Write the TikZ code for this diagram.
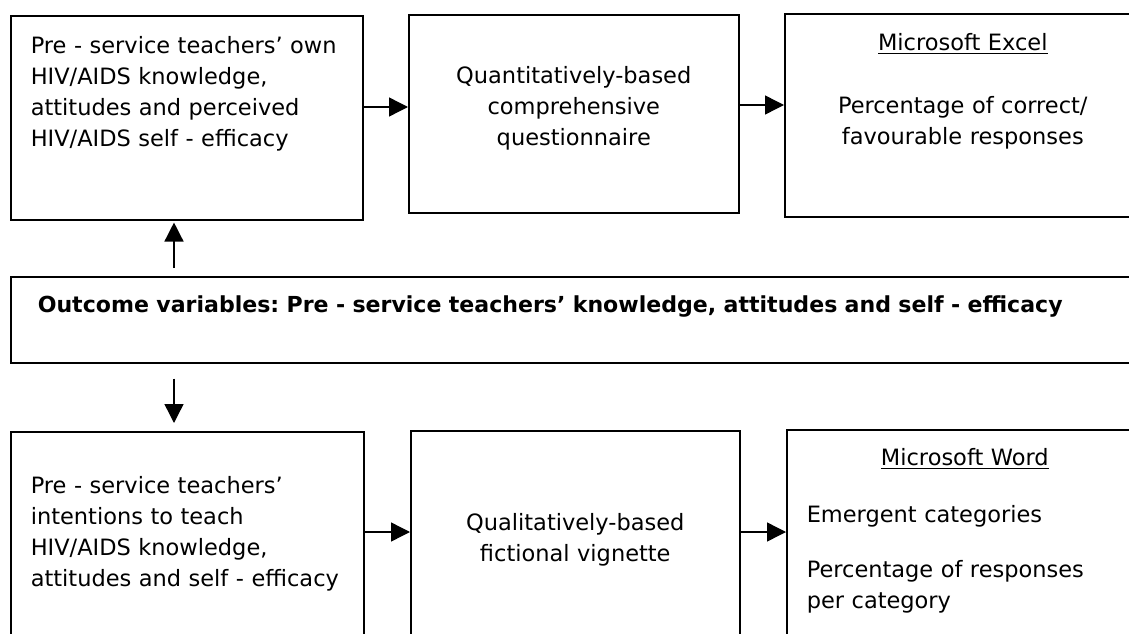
\documentclass[tikz,border=0pt]{standalone}
\usepackage{fontspec}
\setmainfont{DejaVu Sans}
\usetikzlibrary{arrows.meta}
\frenchspacing

\begin{document}
\begin{tikzpicture}[box/.style={draw, line width=1.1pt, anchor=north west, inner xsep=0.5cm, inner ysep=0pt,
                                font=\fontsize{16}{22}\selectfont},
                    arr/.style={line width=1pt, -{Triangle[length=0.475cm,width=0.475cm]}}]
                    \useasboundingbox (0,0) rectangle (28.225,-15.85);
                    \clip (0,0) rectangle (28.225,-15.85);

                    \coordinate (row1) at (0,-2.675);
                    \coordinate (row2) at (0,-2.625);
                    \coordinate (row3) at (0,-13.3);
                    \coordinate (col)  at (4.35,0);

                    \node (own)     [box, text width=7.8cm, align=left, text height=0.95cm, text depth=4.15cm]
                                    at (0.25,-0.375)  {Pre - service teachers’ own\\ HIV/AIDS knowledge,\\ attitudes and perceived\\ HIV/AIDS self - efficacy};
                    \node (quest)   [box, text width=7.25cm, align=center, text height=1.725cm, text depth=3.225cm]
                                    at (10.2,-0.35)   {Quantitatively-based\\ comprehensive\\ questionnaire};
                    \node (excel)   [box, text width=7.9cm, align=center, text height=0.925cm, text depth=4.15cm]
                                    at (19.6,-0.325)  {\underline{Microsoft Excel}\\[0.8cm] Percentage of correct/\\ favourable responses};
                    \node (outcome) [box, inner xsep=0.675cm, text width=26.9cm, align=left, text height=0.9cm, text depth=1.25cm,
                                    font=\fontsize{15.7}{22}\selectfont\bfseries]
                                    at (0.25,-6.9)    {Outcome variables: Pre - service teachers’ knowledge, attitudes and self - efficacy};
                    \node (intent)  [box, text width=7.825cm, align=left, text height=1.55cm, text depth=4.5cm]
                                    at (0.25,-10.775) {Pre - service teachers’\\ intentions to teach\\ HIV/AIDS knowledge,\\ attitudes and self - efficacy};
                    \node (vign)    [box, text width=7.225cm, align=center, text height=2.5cm, text depth=4cm]
                                    at (10.25,-10.75) {Qualitatively-based\\ fictional vignette};
                    \node (word)    [box, text width=7.9cm, align=left, text height=0.9cm, text depth=4.5cm]
                                    at (19.65,-10.725) {\makebox[\linewidth]{\underline{Microsoft Word}}\\[0.65cm] Emergent categories\\[0.6cm]
                                                       Percentage of responses\\ per category};

                    \draw[arr] (own.east |- row1)   -- (quest.west |- row1);
                    \draw[arr] (quest.east |- row2) -- (excel.west |- row2);
                    \draw[arr] (intent.east |- row3) -- (vign.west |- row3);
                    \draw[arr] (vign.east |- row3)  -- (word.west |- row3);
                    \draw[arr, shorten <=0.2cm, shorten >=0.05cm]  (outcome.north -| col) -- (own.south -| col);
                    \draw[arr, shorten <=0.375cm, shorten >=0.2cm] (outcome.south -| col) -- (intent.north -| col);
                \end{tikzpicture}
\end{document}
